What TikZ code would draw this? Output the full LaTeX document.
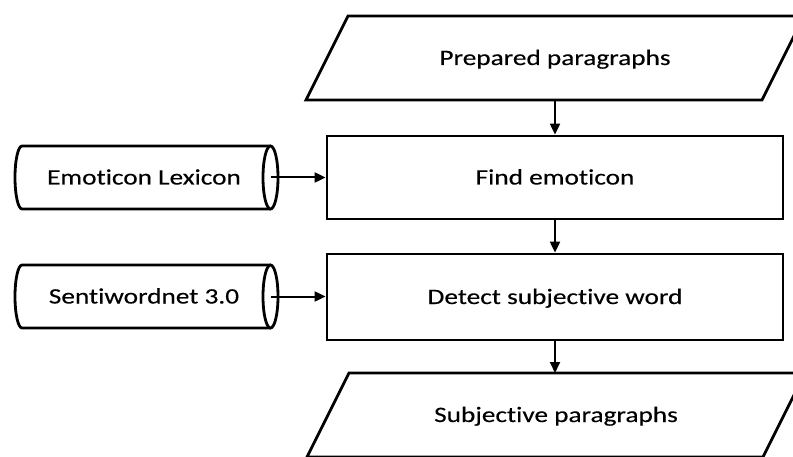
\documentclass[tikz,border=0pt]{standalone}
\usepackage{fontspec}
\setmainfont{Carlito}[FakeStretch=1.24, FakeBold=0.25, Ligatures=NoCommon]
\usetikzlibrary{arrows.meta}

\begin{document}
\begin{tikzpicture}[x=1pt,y=1pt,
  outline/.style={draw=black, line width=2.8pt, line join=miter, fill=white},
  txt/.style={font=\fontsize{22}{26}\selectfont, inner sep=0pt, text height=18pt, text depth=4pt},
  procbox/.style={outline, txt, minimum width=456pt},
  arr/.style={draw=black, line width=2pt, -{Triangle[length=11pt,width=10pt]}}]
\useasboundingbox (0,0) rectangle (793,456);
\clip (0,0) rectangle (793,456);

% input data (top parallelogram)
\draw[outline] (306,356) -- (348,440) -- (804,440) -- (762,356) -- cycle;
\node[txt] (prep) at (555,398) {Prepared paragraphs};
\coordinate (prepout) at (555,356);

% process steps
\node[procbox, minimum height=83pt] (find) at (555,278.5) {Find emoticon};
\node[procbox, minimum height=86pt] (detect) at (555,159) {Detect subjective word};

% output data (bottom parallelogram)
\draw[outline] (307,-1) -- (349,83) -- (805,83) -- (763,-1) -- cycle;
\node[txt] (subj) at (556,41) {Subjective paragraphs};
\coordinate (subjin) at (555,83);

% lexicon stores (horizontal cylinders)
\draw[outline] (270.5,310) -- (22,310)
  arc[start angle=90, end angle=270, x radius=7, y radius=31.5] -- (270.5,247);
\draw[outline] (270.5,278.5) ellipse[x radius=7.5, y radius=31.5];
\node[txt] (emo) at (144,278.5) {Emoticon Lexicon};
\coordinate (emoout) at (270.5,278.5);

\draw[outline] (270.5,191) -- (22,191)
  arc[start angle=90, end angle=270, x radius=7, y radius=31.5] -- (270.5,128);
\draw[outline] (270.5,159.5) ellipse[x radius=7.5, y radius=31.5];
\node[txt] (senti) at (144,159.5) {Sentiwordnet 3.0};
\coordinate (sentiout) at (270.5,159.5);

% connectors
\draw[arr] (prepout) -- (find.north);
\draw[arr] (find.south) -- (detect.north);
\draw[arr] (detect.south) -- (subjin);
\draw[arr] (emoout) -- (find.west);
\draw[arr] (sentiout) -- (detect.west |- sentiout);
\end{tikzpicture}
\end{document}
